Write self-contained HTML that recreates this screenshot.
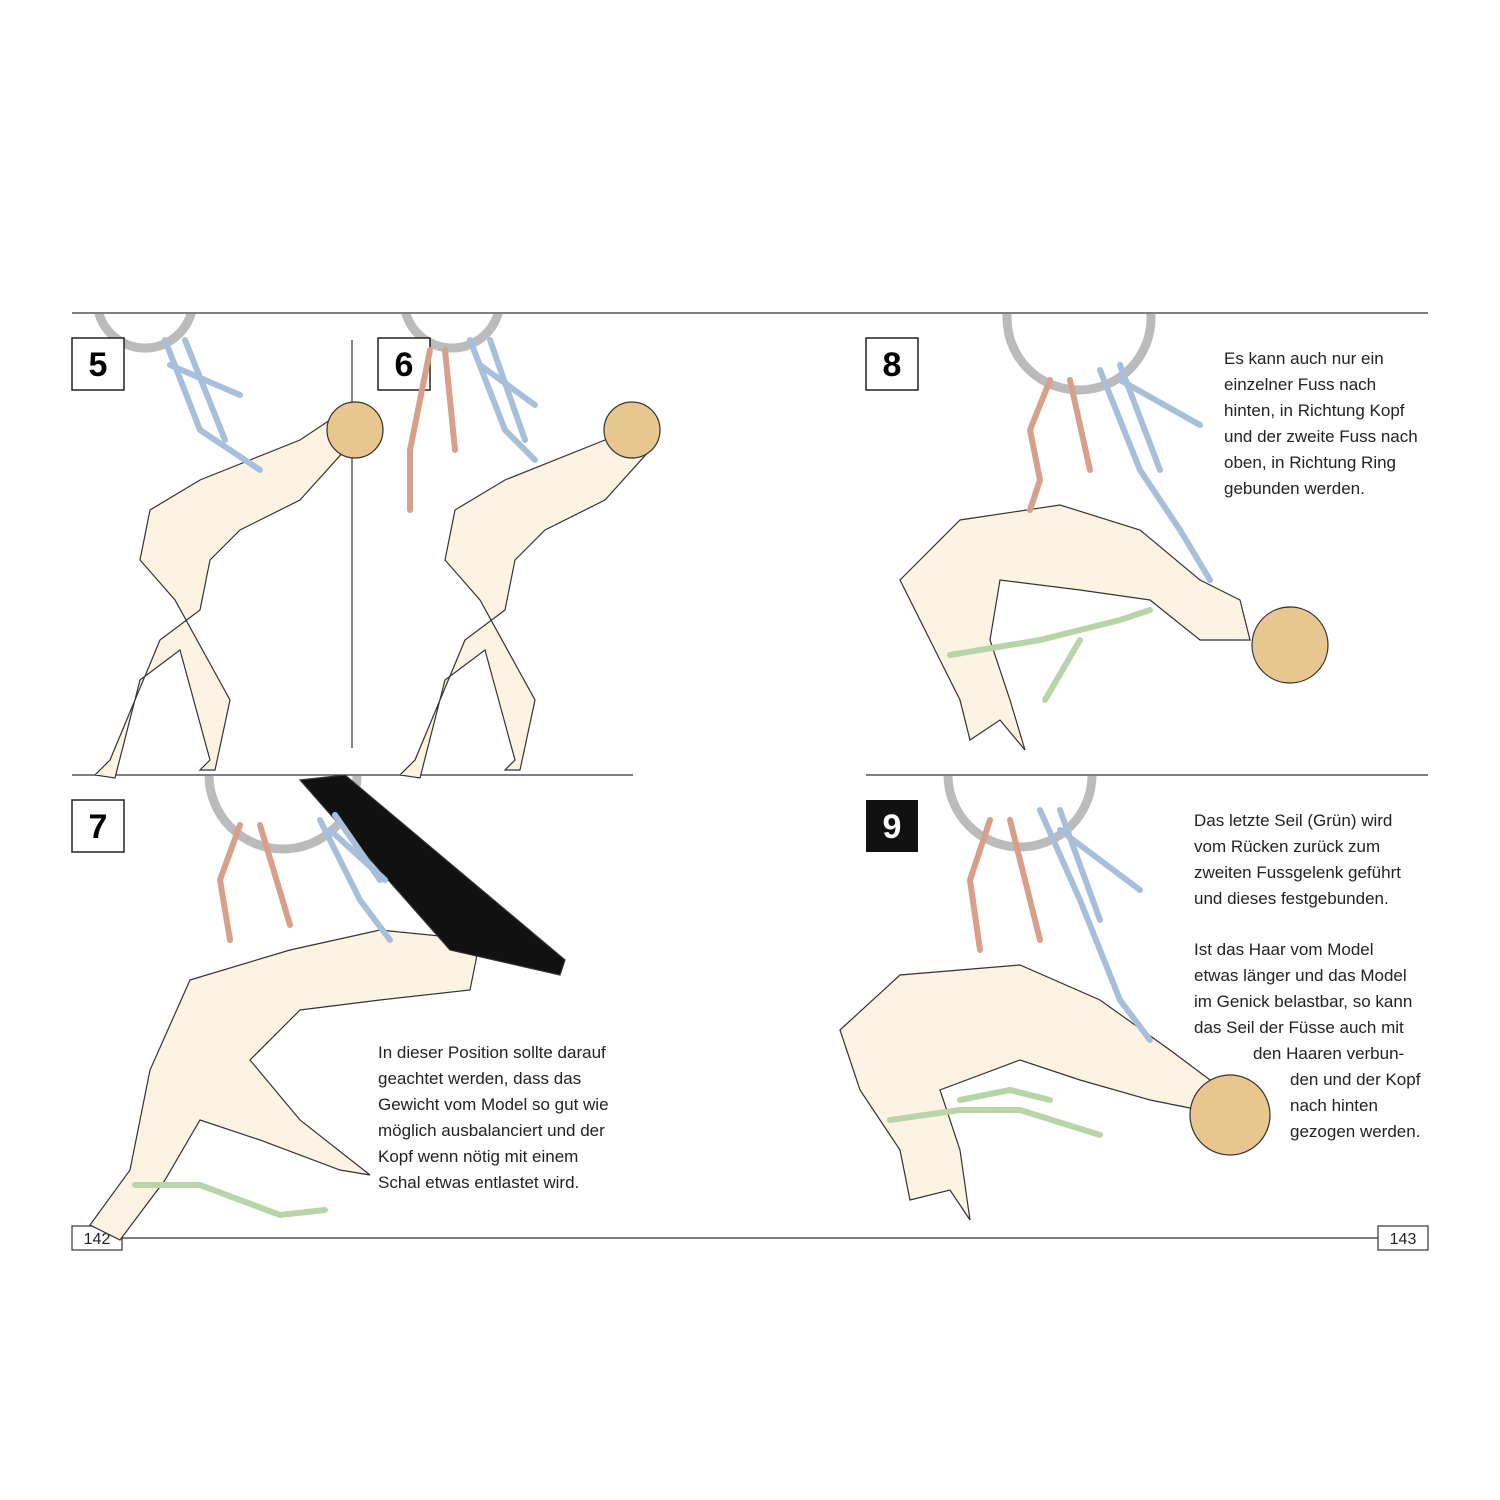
<!DOCTYPE html>
<html><head><meta charset="utf-8"><style>
html,body{margin:0;padding:0;background:#fff}
svg{display:block}
text{font-family:"Liberation Sans",sans-serif}
</style></head><body>
<svg width="1500" height="1500" viewBox="0 0 1500 1500" xmlns="http://www.w3.org/2000/svg">
<defs>
<clipPath id="below1"><rect x="0" y="314" width="1500" height="500"/></clipPath>
<clipPath id="below2"><rect x="0" y="776" width="1500" height="500"/></clipPath>
</defs>
<rect width="1500" height="1500" fill="#fff"/>
<!-- rules -->
<g stroke="#333" stroke-width="1.2" fill="none">
<line x1="72" y1="313" x2="1428" y2="313"/>
<line x1="352" y1="340" x2="352" y2="748"/>
<line x1="72" y1="775" x2="633" y2="775"/>
<line x1="866" y1="775" x2="1428" y2="775"/>
<line x1="122" y1="1238" x2="1378" y2="1238"/>
<rect x="72" y="1226" width="50" height="24"/>
<rect x="1378" y="1226" width="50" height="24"/>
</g>
<text x="97" y="1244" font-size="16" text-anchor="middle" fill="#222">142</text>
<text x="1403" y="1244" font-size="16" text-anchor="middle" fill="#222">143</text>

<!-- rings -->
<g fill="none" stroke="#bbb" stroke-width="9">
<g clip-path="url(#below1)">
<circle cx="145" cy="300" r="48"/>
<circle cx="452" cy="300" r="48"/>
<circle cx="1079" cy="318" r="72"/>
</g>
<g clip-path="url(#below2)">
<circle cx="283" cy="775" r="74"/>
<circle cx="1020" cy="775" r="72"/>
</g>
</g>

<!-- number boxes -->
<g font-size="34" font-weight="bold" text-anchor="middle">
<rect x="72" y="338" width="52" height="52" fill="#fff" stroke="#222" stroke-width="1.5"/><text x="98" y="376">5</text>
<rect x="378" y="338" width="52" height="52" fill="#fff" stroke="#222" stroke-width="1.5"/><text x="404" y="376">6</text>
<rect x="866" y="338" width="52" height="52" fill="#fff" stroke="#222" stroke-width="1.5"/><text x="892" y="376">8</text>
<rect x="72" y="800" width="52" height="52" fill="#fff" stroke="#222" stroke-width="1.5"/><text x="98" y="838">7</text>
<rect x="866" y="800" width="52" height="52" fill="#111"/><text x="892" y="838" fill="#fff">9</text>
</g>

<!-- figures (simplified) -->
<g stroke="#333" stroke-width="1.2" fill="#fdf3e3">
<!-- panel 5 -->
<path d="M200 480 L300 440 L330 420 L345 450 L300 500 L240 530 L210 560 L200 610 L160 640 L110 760 L95 775 L115 778 L140 680 L180 650 L210 760 L200 770 L215 770 L230 700 L175 600 L140 560 L150 510 Z"/>
<circle cx="355" cy="430" r="28" fill="#e8c690"/>
<!-- panel 6 -->
<path d="M505 480 L605 440 L635 420 L650 450 L605 500 L545 530 L515 560 L505 610 L465 640 L415 760 L400 775 L420 778 L445 680 L485 650 L515 760 L505 770 L520 770 L535 700 L480 600 L445 560 L455 510 Z"/>
<circle cx="632" cy="430" r="28" fill="#e8c690"/>
<!-- panel 8 -->
<path d="M900 580 L960 520 L1060 505 L1140 530 L1200 580 L1240 600 L1250 640 L1200 640 L1150 600 L1080 590 L1000 580 L990 640 L1010 700 L1025 750 L1000 720 L970 740 L960 700 L930 640 Z"/>
<circle cx="1290" cy="645" r="38" fill="#e8c690"/>
<!-- panel 7 -->
<path d="M190 980 L290 950 L380 930 L480 940 L470 990 L380 1000 L300 1010 L250 1060 L300 1120 L370 1175 L340 1170 L260 1140 L200 1120 L165 1180 L120 1240 L90 1225 L130 1170 L150 1070 Z"/>
<path d="M300 780 L345 775 L565 960 L560 975 L450 950 Z" fill="#111"/>
<!-- panel 9 -->
<path d="M840 1030 L900 975 L1020 965 L1100 1000 L1170 1050 L1210 1080 L1200 1110 L1150 1100 L1080 1080 L1020 1060 L940 1090 L960 1150 L970 1220 L950 1190 L910 1200 L900 1150 L860 1090 Z"/>
<circle cx="1230" cy="1115" r="40" fill="#e8c690"/>
</g>

<!-- ropes -->
<g fill="none" stroke-width="6" stroke-linecap="round">
<g stroke="#a8bfdc">
<path d="M165 340 L200 430 L230 450 L260 470"/><path d="M185 340 L225 440"/><path d="M170 365 L240 395"/>
<path d="M470 340 L505 430 L535 460"/><path d="M490 340 L525 440"/><path d="M480 365 L535 405"/>
<path d="M1100 370 L1140 470 L1180 530 L1210 580"/><path d="M1120 365 L1160 470"/><path d="M1120 380 L1200 425"/>
<path d="M320 820 L360 900 L390 940"/><path d="M335 815 L380 880"/><path d="M330 830 L385 880"/>
<path d="M1040 810 L1080 900 L1120 1000 L1150 1040"/><path d="M1060 810 L1100 920"/><path d="M1060 830 L1140 890"/>
</g>
<g stroke="#d8a08a">
<path d="M430 350 L410 450 L410 510"/><path d="M445 350 L455 450"/>
<path d="M1050 380 L1030 430 L1040 480 L1030 510"/><path d="M1070 380 L1090 470"/>
<path d="M240 825 L220 880 L230 940"/><path d="M260 825 L290 925"/>
<path d="M990 820 L970 880 L980 950"/><path d="M1010 820 L1040 940"/>
</g>
<g stroke="#b8d4a8">
<path d="M950 655 L1040 640 L1120 620 L1150 610"/><path d="M1080 640 L1045 700"/>
<path d="M135 1185 L200 1185 L280 1215 L325 1210"/>
<path d="M890 1120 L960 1110 L1020 1110 L1100 1135"/><path d="M960 1100 L1010 1090 L1050 1100"/>
</g>
</g>

<!-- texts -->
<g font-size="17" fill="#222">
<text x="1224" y="364">Es kann auch nur ein</text>
<text x="1224" y="390">einzelner Fuss nach</text>
<text x="1224" y="416">hinten, in Richtung Kopf</text>
<text x="1224" y="442">und der zweite Fuss nach</text>
<text x="1224" y="468">oben, in Richtung Ring</text>
<text x="1224" y="494">gebunden werden.</text>

<text x="378" y="1058">In dieser Position sollte darauf</text>
<text x="378" y="1084">geachtet werden, dass das</text>
<text x="378" y="1110">Gewicht vom Model so gut wie</text>
<text x="378" y="1136">möglich ausbalanciert und der</text>
<text x="378" y="1162">Kopf wenn nötig mit einem</text>
<text x="378" y="1188">Schal etwas entlastet wird.</text>

<text x="1194" y="826">Das letzte Seil (Grün) wird</text>
<text x="1194" y="852">vom Rücken zurück zum</text>
<text x="1194" y="878">zweiten Fussgelenk geführt</text>
<text x="1194" y="904">und dieses festgebunden.</text>
<text x="1194" y="955">Ist das Haar vom Model</text>
<text x="1194" y="981">etwas länger und das Model</text>
<text x="1194" y="1007">im Genick belastbar, so kann</text>
<text x="1194" y="1033">das Seil der Füsse auch mit</text>
<text x="1253" y="1059">den Haaren verbun-</text>
<text x="1290" y="1085">den und der Kopf</text>
<text x="1290" y="1111">nach hinten</text>
<text x="1290" y="1137">gezogen werden.</text>
</g>
</svg>
</body></html>
